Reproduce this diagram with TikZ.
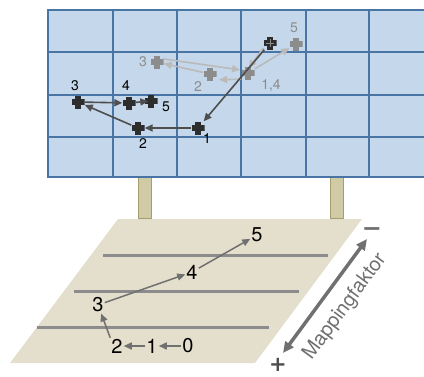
\documentclass[tikz,border=0pt]{standalone}
\usepackage{fontspec}
\setmainfont{TeX Gyre Heros}
\newfontfamily\signfont{DejaVu Sans}
\usetikzlibrary{arrows.meta}

\definecolor{gridfill}{RGB}{197,215,234}
\definecolor{gridline}{RGB}{72,117,166}
\definecolor{legfill}{RGB}{208,202,165}
\definecolor{legline}{RGB}{168,157,112}
\definecolor{floorfill}{RGB}{227,223,204}
\definecolor{floorline}{RGB}{140,140,140}
\definecolor{arrgray}{RGB}{112,112,112}
\definecolor{darkmk}{RGB}{45,45,45}
\definecolor{darkarr}{RGB}{78,78,78}
\definecolor{lightmk}{RGB}{140,140,140}
\definecolor{lightarr}{RGB}{186,186,186}

\tikzset{
  mk/.style={minimum size=13pt,inner sep=0pt,path picture={
      \fill[#1] ([xshift=-2.8pt]path picture bounding box.north) rectangle ([xshift=2.8pt]path picture bounding box.south);
      \fill[#1] ([yshift=-2.8pt]path picture bounding box.west) rectangle ([yshift=2.8pt]path picture bounding box.east);}},
  gridlbl/.style={font=\fontsize{14}{14}\selectfont,inner sep=0pt},
  floorlbl/.style={font=\fontsize{20}{20}\selectfont,inner sep=1pt},
  darr/.style={draw=darkarr,line width=1.6pt,-{Triangle[length=8pt,width=7pt]}},
  larr/.style={draw=lightarr,line width=1.6pt,-{Triangle[length=8pt,width=7pt]}},
  farr/.style={draw=arrgray,line width=1.5pt,-{Triangle[length=8pt,width=7pt]}},
}

\begin{document}
\begin{tikzpicture}[x=1pt,y=-1pt]
  \useasboundingbox (0,0) rectangle (424,376);

  % legs
  \draw[fill=legfill,draw=legline,line width=1.2pt] (138.5,177) rectangle (151.5,219);
  \draw[fill=legfill,draw=legline,line width=1.2pt] (330.5,177) rectangle (343.5,219);

  % grid
  \fill[gridfill] (48,10) rectangle (426,177);
  \foreach \x in {48,113,177,241,306,369}
    \draw[gridline,line width=2.2pt] (\x,10) -- (\x,177);
  \foreach \y in {10,52,95,137,177}
    \draw[gridline,line width=2.2pt] (47,\y) -- (426,\y);

  % floor
  \fill[floorfill] (118,219) -- (362,219) -- (255,363) -- (10,363) -- cycle;
  \draw[floorline,line width=3pt] (103,255) -- (328,255);
  \draw[floorline,line width=3pt] (74,291) -- (299,291);
  \draw[floorline,line width=3pt] (37,327) -- (269,327);

  % light markers
  \node[mk=lightmk] (g3) at (157,62) {};
  \node[mk=lightmk] (g2) at (210,74) {};
  \node[mk=lightmk] (g14) at (248,73) {};
  \node[mk=lightmk] (g5) at (296,44) {};
  \node[gridlbl,text=lightmk] (lg3) at (143,62) {3};
  \node[gridlbl,text=lightmk] (lg2) at (198,87) {2};
  \node[gridlbl,text=lightmk] (lg14) at (271,86) {1,4};
  \node[gridlbl,text=lightmk] (lg5) at (294,28) {5};

  % dark markers
  \node[mk=darkmk] (d1) at (198,128) {};
  \node[mk=darkmk] (d2) at (138,128) {};
  \node[mk=darkmk] (d3) at (78,102) {};
  \node[mk=darkmk] (d4) at (129,103) {};
  \node[mk=darkmk] (d5) at (151,101) {};
  \node[mk=darkmk] (ds) at (270,43) {};
  \draw[lightmk,line width=0.6pt] ([yshift=-4pt]ds.center) -- ([yshift=4pt]ds.center)
    ([xshift=-4pt]ds.center) -- ([xshift=4pt]ds.center);
  \node[gridlbl] (ld3) at (75,86) {3};
  \node[gridlbl] (ld4) at (126,86) {4};
  \node[gridlbl] (ld5) at (166,107) {5};
  \node[gridlbl] (ld2) at (143,144) {2};
  \node[gridlbl] (ld1) at (207,139) {1};

  % light path
  \draw[larr,shorten <=6pt,shorten >=6pt] ([xshift=-3pt]ds.center) -- ([xshift=-3pt]g14.center);
  \draw[larr,shorten <=7pt,shorten >=9pt] ([yshift=-6pt]g14.center) -- ([yshift=-6pt]g2.center);
  \draw[larr] (g2) -- (g3);
  \draw[larr,shorten <=6pt,shorten >=8pt] ([yshift=4pt]g3.center) -- ([yshift=2pt]g14.center);
  \draw[larr] (g14) -- (g5);

  % dark path
  \draw[darr] (ds) -- (d1);
  \draw[darr] (d1) -- (d2);
  \draw[darr] (d2) -- (d3);
  \draw[darr] (d3) -- (d4);
  \draw[darr,shorten >=-4pt] (d4) -- (d5);

  % floor path
  \node[floorlbl] (f0) at (188,346) {0};
  \node[floorlbl] (f1) at (152,346) {1};
  \node[floorlbl] (f2) at (117,346) {2};
  \node[floorlbl] (f3) at (98,305) {3};
  \node[floorlbl] (f4) at (192,272) {4};
  \node[floorlbl] (f5) at (257,235) {5};
  \draw[farr] (f0) -- (f1);
  \draw[farr] (f1) -- (f2);
  \draw[farr] (f2.north west) -- (f3);
  \draw[farr] (f3) -- (f4);
  \draw[farr] (f4) -- (f5);

  % mapping factor
  \coordinate (mtop) at (367,239);
  \coordinate (mbot) at (283,353);
  \draw[arrgray,line width=3.5pt,{Triangle[length=11pt,width=10pt]}-{Triangle[length=11pt,width=10pt]}] (mbot) -- (mtop);
  \node[text=arrgray,font=\signfont\fontsize{24}{24}\selectfont\bfseries,inner sep=0pt] (minus) at (372,232) {−};
  \node[text=darkarr,font=\signfont\fontsize{21}{21}\selectfont\bfseries,inner sep=0pt] (plus) at (278,365) {+};
  \node[text=arrgray,font=\fontsize{20}{20}\selectfont,rotate=53.6] (mlbl) at (345,307) {Mappingfaktor};
\end{tikzpicture}
\end{document}
